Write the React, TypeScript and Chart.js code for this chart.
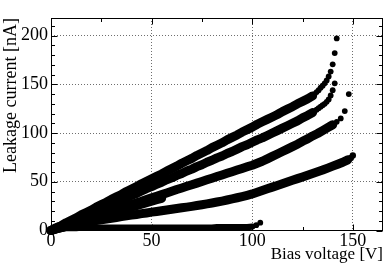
import React, { useEffect, useRef } from "react";
import { Chart, registerables } from "chart.js";

Chart.register(...registerables);

// Bias voltage grid for the densely measured part of each sweep [V]
const biasSteps = [0, 2.5, 5, 7.5, 10, 12.5, 15, 17.5, 20, 22.5, 25, 27.5, 30, 32.5, 35, 37.5, 40, 42.5, 45, 47.5, 50, 52.5, 55, 57.5, 60, 62.5, 65, 67.5, 70, 72.5, 75, 77.5, 80, 82.5, 85, 87.5, 90, 92.5, 95, 97.5, 100, 102.5, 105, 107.5, 110, 112.5, 115, 117.5, 120, 122.5, 125, 127.5, 130, 132.5, 135, 137.5, 140, 142.5, 145, 147.5, 150];

// Leakage current [nA] of each sensor, dense part (paired with biasSteps)
const sensorA = [0, 3, 5, 8, 10.5, 13, 16, 18.5, 21, 24, 26.5, 29, 32, 34.5, 37, 40, 42.5, 45, 48, 50.5, 53, 55.5, 58, 61, 63.5, 66, 69, 71.5, 74, 77, 79.5, 82, 85, 87.5, 90, 93, 95.5, 98, 101, 103.5, 106, 109, 111.5, 114, 116.5, 119, 122, 124.5, 127, 130, 132.5, 135, 138];
const sensorB = [0, 2, 4.5, 6.5, 9, 11, 13.5, 15.5, 18, 20, 22.5, 24.5, 27, 29, 31.5, 33.5, 36, 38, 40.5, 43, 45, 47.5, 49.5, 52, 54, 56.5, 58.5, 61, 63, 65.5, 67.5, 70, 72, 74.5, 76.5, 79, 81, 83.5, 86, 88, 90.5, 93, 95, 97.5, 100, 102.5, 105, 107.5, 110, 112.5, 115.5, 118, 121];
const sensorC = [0, 1.7, 3.4, 5, 6.7, 8.4, 10, 11.7, 13.4, 15, 16.7, 18.4, 20, 21.8, 23.5, 25, 26.8, 28.5, 30, 31.8, 33.5, 35.2, 36.8, 38.5, 40.2, 42, 43.6, 45.3, 47, 48.6, 50.3, 52, 53.6, 55.3, 57, 58.7, 60.3, 62, 63.7, 65.4, 67, 69, 71, 73.5, 76, 78.5, 81, 83.5, 86, 88.5, 91.5, 94, 97, 99.5, 102.5, 105.5, 108.5];
const sensorD = [0, 1.8, 3, 4.3, 5.5, 6.5, 7.5, 8.4, 9.3, 10.2, 11, 11.8, 12.6, 13.4, 14.2, 15, 15.8, 16.5, 17.3, 18, 18.8, 19.5, 20.3, 21, 21.8, 22.5, 23.3, 24, 24.8, 25.6, 26.4, 27.3, 28.2, 29.2, 30.2, 31.3, 32.4, 33.6, 34.8, 36.1, 37.5, 39.2, 41, 42.8, 44.5, 46.2, 48, 49.8, 51.5, 53.2, 55, 56.8, 58.5, 60.2, 62, 64, 66, 68, 70, 72.5];
const sensorE = [0, 1.5, 2, 2.5, 2.5, 2.5, 3, 3, 3, 3, 3, 3, 3, 3, 3, 3, 3, 3, 3, 3, 3, 3, 3, 3, 3, 3, 3, 3, 3, 3, 3, 3, 3, 3.5, 3.5, 3.5, 3.5, 3.5, 3.5, 3.5, 4];
const sensorF = [0, 1.5, 3, 4.5, 6, 7.5, 9, 10.5, 12, 13.5, 15, 16.5, 18, 19.5, 21, 22.5, 24, 25.5, 27, 28.5, 30, 31.5, 33];

// Breakdown tails (sparser, individually visible points)
const tailVoltsA = [131, 132, 133, 134, 135, 136, 137, 138, 139, 140, 141, 142];
const tailCurrentA = [140, 142, 144, 146.5, 148.5, 151, 154, 158, 163, 170.5, 182, 197];
const tailVoltsB = [131, 132, 133, 134, 135, 136, 137, 138, 139, 140, 141];
const tailCurrentB = [122.5, 124, 125.5, 127, 128.5, 130, 132, 134.5, 138.5, 144, 151];
const tailVoltsC = [142, 144, 146, 148];
const tailCurrentC = [111.5, 115, 122.5, 140];
const tailVoltsD = [149, 150];
const tailCurrentD = [74.5, 77];
const tailVoltsE = [102, 104];
const tailCurrentE = [5.5, 8];

// Axis ticks
const xMajorTicks = [0, 50, 100, 150];
const xMinorTicks = [25, 75, 125];
const yMajorTicks = [0, 50, 100, 150, 200];
const yMinorTicks = [10, 20, 30, 40, 60, 70, 80, 90, 110, 120, 130, 140, 160, 170, 180, 190, 210];

const X_MAX = 165;
const Y_MAX = 218;
const SERIF = "'Liberation Serif', 'Times New Roman', 'DejaVu Serif', serif";

const pair = (volts: number[], cur: number[]) => cur.map((c, i) => ({ x: volts[i], y: c }));

// Densely sampled sweep: overlapping dots rendered as a solid band
const band = (data: { x: number; y: number }[], w: number) => ({
  data,
  showLine: true,
  borderWidth: w,
  borderColor: "#000",
  borderCapStyle: "round",
  borderJoinStyle: "round",
  tension: 0,
  pointRadius: 0,
  pointHoverRadius: 0,
  backgroundColor: "#000",
  fill: false,
  clip: false as const,
});

const dot = (data: { x: number; y: number }[], r: number) => ({
  data,
  showLine: false,
  pointRadius: r,
  pointHoverRadius: r,
  pointBackgroundColor: "#000",
  pointBorderWidth: 0,
  backgroundColor: "#000",
  borderColor: "#000",
  clip: false as const,
});

const frameTicks = {
  id: "frameTicks",
  afterDatasetsDraw(chart: any) {
    const { ctx, chartArea, scales } = chart;
    const { left, right, top, bottom } = chartArea;
    const xs = scales.x;
    const ys = scales.y;
    const L = Math.round(left) + 0.5;
    const R = Math.round(right) - 0.5;
    const T = Math.round(top) + 0.5;
    const B = Math.round(bottom) - 0.5;
    ctx.save();
    ctx.strokeStyle = "#000";
    ctx.lineWidth = 1;
    ctx.setLineDash([]);
    ctx.beginPath();
    const tickX = (v: number, len: number) => {
      const p = Math.round(xs.getPixelForValue(v)) + 0.5;
      ctx.moveTo(p, B);
      ctx.lineTo(p, B - len);
      ctx.moveTo(p, T);
      ctx.lineTo(p, T + len);
    };
    const tickY = (v: number, len: number) => {
      const p = Math.round(ys.getPixelForValue(v)) + 0.5;
      ctx.moveTo(L, p);
      ctx.lineTo(L + len, p);
      ctx.moveTo(R, p);
      ctx.lineTo(R - len, p);
    };
    xMajorTicks.forEach((v) => tickX(v, 6));
    xMinorTicks.forEach((v) => tickX(v, 3.5));
    yMajorTicks.forEach((v) => tickY(v, 6));
    yMinorTicks.forEach((v) => tickY(v, 3.5));
    ctx.stroke();
    ctx.strokeRect(L, T, R - L, B - T);
    ctx.restore();
  },
};

export default function App() {
  const ref = useRef<HTMLCanvasElement | null>(null);

  useEffect(() => {
    if (!ref.current) return;
    const gridColor = (c: any) => (c.tick && c.tick.value === 0 ? "rgba(0,0,0,0)" : "#6e6e6e");
    const chart = new Chart(ref.current, {
      type: "scatter",
      data: {
        datasets: [
          band(pair(biasSteps, sensorA), 9),
          dot(pair(tailVoltsA, tailCurrentA), 2.9),
          band(pair(biasSteps, sensorB), 9),
          dot(pair(tailVoltsB, tailCurrentB), 2.9),
          band(pair(biasSteps, sensorC), 9),
          dot(pair(tailVoltsC, tailCurrentC), 2.9),
          band(pair(biasSteps, sensorD), 9),
          dot(pair(tailVoltsD, tailCurrentD), 3.2),
          band(pair(biasSteps, sensorE), 6.2),
          dot(pair(tailVoltsE, tailCurrentE), 2.9),
          band(pair(biasSteps, sensorF), 9),
        ] as any,
      },
      options: {
        animation: false,
        responsive: false,
        events: [],
        layout: { padding: { top: 18, right: 7, left: 0, bottom: 0 } },
        plugins: { legend: { display: false }, tooltip: { enabled: false } },
        scales: {
          x: {
            type: "linear",
            position: "bottom",
            min: 0,
            max: X_MAX,
            ticks: {
              stepSize: 50,
              includeBounds: false,
              padding: 0,
              color: "#000",
              maxRotation: 0,
              autoSkip: false,
              font: { family: SERIF, size: 18 },
            },
            grid: { drawTicks: false, color: gridColor, lineWidth: 1 },
            border: { display: false, dash: [1, 2] },
            title: {
              display: true,
              text: "Bias voltage [V]",
              align: "end",
              color: "#000",
              padding: 0,
              font: { family: SERIF, size: 17 },
            },
            afterFit: (s: any) => {
              s.height = 34.5;
            },
          },
          y: {
            type: "linear",
            min: 0,
            max: Y_MAX,
            ticks: {
              stepSize: 50,
              includeBounds: false,
              padding: 3,
              color: "#000",
              font: { family: SERIF, size: 18 },
            },
            grid: { drawTicks: false, color: gridColor, lineWidth: 1 },
            border: { display: false, dash: [1, 2] },
            title: {
              display: true,
              text: "Leakage current [nA]",
              align: "end",
              color: "#000",
              padding: 0,
              font: { family: SERIF, size: 18 },
            },
            afterFit: (s: any) => {
              s.width = 51;
            },
          },
        },
      } as any,
      plugins: [frameTicks],
    });
    return () => chart.destroy();
  }, []);

  return (
    <div style={{ position: "absolute", left: 0, top: 0, width: 390, height: 265, background: "#fff" }}>
      <canvas ref={ref} width={390} height={265} />
    </div>
  );
}
